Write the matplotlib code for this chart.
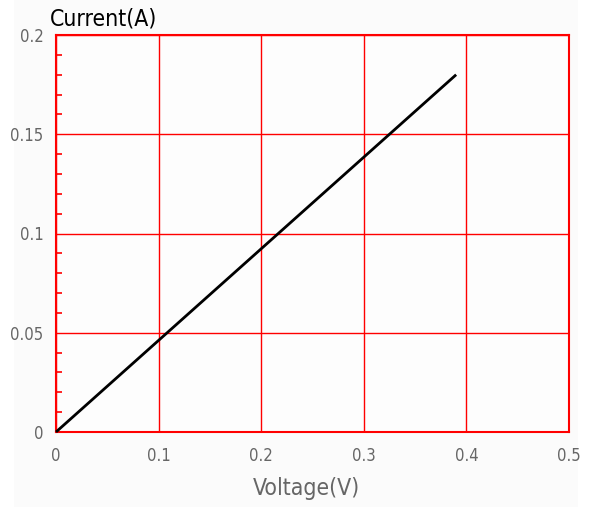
import matplotlib.pyplot as plt
from matplotlib.patches import Rectangle
from matplotlib.ticker import MultipleLocator

# data
voltage = [0, 0.39]
current = [0, 0.18]
x_ticks = [0, 0.1, 0.2, 0.3, 0.4, 0.5]
x_labels = ['0', '0.1', '0.2', '0.3', '0.4', '0.5']
y_ticks = [0, 0.05, 0.1, 0.15, 0.2]
y_labels = ['0', '0.05', '0.1', '0.15', '0.2']

W, H = 590, 507
fig = plt.figure(figsize=(W / 100, H / 100), dpi=100, facecolor='white')
fig.patches.append(Rectangle((14 / W, 0), (578 - 14) / W, 1, transform=fig.transFigure,
                             facecolor='#fbfbfb', edgecolor='none', zorder=-10))

ax = fig.add_axes([56 / W, 1 - 432 / H, (569 - 56) / W, (432 - 35) / H])
ax.set_facecolor('#fdfdfd')
ax.plot(voltage, current, color='black', lw=2, solid_capstyle='butt', zorder=3, clip_on=False)

ax.set_xlim(0, 0.5)
ax.set_ylim(0, 0.2)
ax.set_xticks(x_ticks)
ax.set_xticklabels(x_labels)
ax.set_yticks(y_ticks)
ax.set_yticklabels(y_labels)
ax.yaxis.set_minor_locator(MultipleLocator(0.01))

font = dict(family='DejaVu Sans', stretch='condensed')
for lab in ax.get_xticklabels() + ax.get_yticklabels():
    lab.set_fontfamily('DejaVu Sans')
    lab.set_fontstretch('condensed')
    lab.set_fontsize(12)
    lab.set_color('#666666')

ax.tick_params(axis='x', which='major', length=0, pad=11)
ax.tick_params(axis='y', which='major', length=0, pad=9)
ax.tick_params(axis='y', which='minor', direction='in', length=4, width=1.2, color='red')

ax.grid(True, which='major', color='red', lw=1.0)
for s in ax.spines.values():
    s.set_color('red')
    s.set_linewidth(1.5)

fig.text(50 / W, 1 - 19 / H, 'Current(A)', fontsize=16.5, color='black', va='center', ha='left', **font)
fig.text(306 / W, 1 - 488 / H, 'Voltage(V)', fontsize=16.5, color='#666666', va='center', ha='center', **font)

fig.savefig('out.png', dpi=100, facecolor=fig.get_facecolor())
